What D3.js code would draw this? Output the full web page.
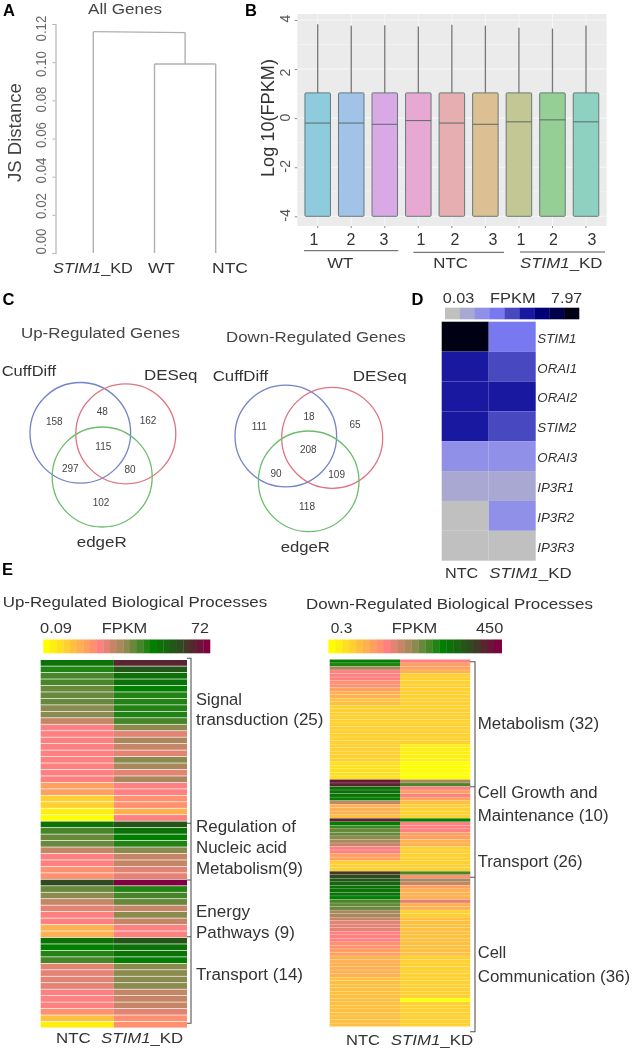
<!DOCTYPE html>
<html><head><meta charset="utf-8">
<script src="https://cdn.jsdelivr.net/npm/d3@7"></script>
<style>html,body{margin:0;padding:0;background:#fff}svg{display:block}text{font-family:"Liberation Sans",Arial,sans-serif}</style>
</head><body><svg id="c" width="633" height="1052"></svg>
<script>
// ---------- data ----------
const jsTicks = [0,0.02,0.04,0.06,0.08,0.10,0.12];
const dendroLeaves = ["STIM1_KD","WT","NTC"];
const dendroInner = 0.099;   // WT + NTC
const dendroRoot = 0.1155;   // STIM1_KD + rest
const boxSamples = ["WT1","WT2","WT3","NTC1","NTC2","NTC3","KD1","KD2","KD3"];
const boxQ1 = [-4,-4,-4,-4,-4,-4,-4,-4,-4];
const boxQ3 = [1.03,1.03,1.03,1.03,1.03,1.03,1.03,1.03,1.03];
const boxMedian = [-0.2,-0.2,-0.25,-0.1,-0.2,-0.25,-0.15,-0.07,-0.15];
const boxTop = [3.83,3.77,3.79,3.74,3.81,3.77,3.68,3.65,3.78];
const boxColors = ["#8ecbdc","#a2c3e8","#d9a9e6","#e7a8d3","#e6aeb0","#dcbf93","#c2c794","#96cf96","#8ed1c1"];
const boxTicks = [-4,-2,0,2,4];
const boxNums = ["1","2","3","1","2","3","1","2","3"];
const vennUp = ["158","48","162","115","297","80","102"];
const vennDown = ["111","18","65","208","90","109","118"];
const genesD = ["STIM1","ORAI1","ORAI2","STIM2","ORAI3","IP3R1","IP3R2","IP3R3"];
const levelsD_NTC = [8,5,5,5,2,1,0,0];
const levelsD_KD  = [3,4,5,4,2,1,2,0];
const paletteD = ["#c0c0c0","#a8a8d2","#9090e8","#7878f0","#4848c0","#1818a0","#000078","#00004a","#000014"];
const upNTC = [17,15,14,14,13,13,13,12,12,10,8,8,8,8,8,8,8,8,8,6,6,3,3,1,0,
  17,14,13,13,10,8,8,7,7,
  20,13,12,10,9,8,8,5,5,
  17,16,15,14,9,9,9,9,8,8,8,7,4,1];
const upKD = [22,19,17,17,16,15,15,15,15,14,12,9,11,10,9,12,11,9,11,8,8,7,7,5,8,
  19,17,16,15,12,10,10,9,9,
  24,15,14,13,10,12,10,8,8,
  19,17,17,16,12,12,12,12,10,10,10,9,7,7];
const downNTC = [16,15,11,8,8,8,7,7,6,5,5,4,4,
  3,3,3,3,3,3,3,3,3,3,3,3,3,3,3,3,
  2,2,2,2,2,23,22,17,17,17,16,10,5,5,5,4,22,16,14,13,13,12,11,10,8,8,6,6,3,3,3,21,
  20,19,18,17,17,17,16,14,13,13,11,11,10,9,9,9,8,8,8,7,7,6,6,
  5,5,5,5,5,5,4,4,4,4,4,4,4,4,4,4,4,4,4,4];
const downKD = [8,6,6,5,
  3,3,3,3,3,3,3,3,3,3,3,3,3,3,3,3,3,3,3,3,
  1,1,1,1,1,0,0,0,0,0,11,14,8,6,8,6,4,3,3,3,3,16,8,8,8,6,6,5,5,
  3,3,3,3,3,3,3,14,7,11,10,6,5,5,5,9,5,5,3,3,
  4,4,4,4,4,4,4,4,4,4,4,
  3,3,3,3,3,3,3,3,3,3,3,3,0,3,3,3,3,3,3,3];
const legendSteps = d3.range(0,25);

// ---------- helpers ----------
const svg = d3.select("#c");
const root = svg.append("g").style("filter","blur(0.35px)");
// parts: string, or array of [string, italic]; w = target printed width
function label(g,x,y,parts,size,w,opt={}){
  const n = g.append("g");
  const t = n.append("text").attr("font-size",size).attr("fill",opt.fill||"#333")
    .attr("font-weight",opt.bold?"bold":null).attr("font-style",opt.italic?"italic":null);
  (typeof parts==="string"?[[parts,false]]:parts).forEach(p=>{
    t.append("tspan").text(p[0]).attr("font-style",p[1]?"italic":null);
  });
  const sx = w? w/t.node().getComputedTextLength():1;
  const mw = t.node().getComputedTextLength()*sx;
  const ax = opt.center? -mw/2 : 0;
  n.attr("transform",`translate(${x},${y})${opt.rot?` rotate(${opt.rot})`:""} translate(${ax},0) scale(${sx},1)`);
  return n;
}
const KD = [["STIM1",true],["_KD",false]];
[["A",3,16],["B",245,15.5],["C",2.5,304.5],["D",411.5,304.5],["E",2,575]].forEach(d=>
  label(root,d[1],d[2],d[0],16.5,null,{bold:true,fill:"#000"}));

// ---------- A dendrogram ----------
{
  const g = root.append("g");
  const y = d3.scaleLinear().domain([0,0.12]).range([253,24]);
  const x = d3.scalePoint().domain(dendroLeaves).range([93.3,215.7]);
  const ax = d3.axisLeft(y).tickValues(jsTicks).tickFormat(d3.format(".2f")).tickSize(3);
  const a = g.append("g").attr("transform","translate(55.5,0)").call(ax);
  a.select(".domain").attr("stroke","#b5b5b5").attr("stroke-width",1.2);
  a.selectAll("line").attr("stroke","#b5b5b5");
  a.selectAll("text").each(function(d){
    const o = -12 + 2.67*Math.round(d/0.02);
    d3.select(this).attr("x",null).attr("y",null).attr("dy",null).attr("text-anchor","middle")
      .attr("transform",`translate(-10,${o}) rotate(-90) scale(1,1.05)`)
      .attr("font-size",13.3).attr("fill","#666").style("font-family",'"Liberation Sans"');
  });
  const mid = (x("WT")+x("NTC"))/2;
  const seg = [
    [x("WT"),y(0),x("WT"),y(dendroInner)],[x("WT"),y(dendroInner),x("NTC"),y(dendroInner)],[x("NTC"),y(dendroInner),x("NTC"),y(0)],
    [mid,y(dendroInner),mid,y(dendroRoot)],[mid,y(dendroRoot),x("STIM1_KD"),y(dendroRoot+0.0005)],[x("STIM1_KD"),y(dendroRoot+0.0005),x("STIM1_KD"),y(0)]];
  g.selectAll("line.s").data(seg).join("line").attr("class","s")
    .attr("x1",d=>d[0]).attr("y1",d=>d[1]).attr("x2",d=>d[2]).attr("y2",d=>d[3])
    .attr("stroke","#b0b0b0").attr("stroke-width",1.4);
  label(g,88,14,"All Genes",14.5,74,{fill:"#444"});
  label(g,21,182,"JS Distance",18,99,{rot:-90,fill:"#444"});
  label(g,53,272.7,KD,15.5,80,{fill:"#333"});
  label(g,148,272.7,"WT",15.5,27,{fill:"#333"});
  label(g,212,272.7,"NTC",15.5,36,{fill:"#333"});
}

// ---------- B boxes ----------
{
  const g = root.append("g");
  const y = d3.scaleLinear().domain([-4,4]).range([216.3,20]);
  const x = d3.scalePoint().domain(boxSamples).range([317.7,586]);
  const L=297.3,R=606.7,T=14,B=226,bw=25.5;
  g.append("rect").attr("x",L).attr("y",T).attr("width",R-L).attr("height",B-T).attr("fill","#ebebeb");
  g.selectAll("line.gh").data(d3.range(-4,4.1,1)).join("line").attr("class","gh")
    .attr("x1",L).attr("x2",R).attr("y1",d=>y(d)).attr("y2",d=>y(d))
    .attr("stroke","#f7f7f7").attr("stroke-width",d=>d%2?0.6:1.1);
  g.selectAll("line.gv").data(boxSamples).join("line").attr("class","gv")
    .attr("y1",T).attr("y2",B).attr("x1",d=>x(d)).attr("x2",d=>x(d)).attr("stroke","#f7f7f7").attr("stroke-width",1);
  const s = g.selectAll("g.b").data(boxSamples).join("g").attr("class","b");
  s.append("line").attr("x1",d=>x(d)).attr("x2",d=>x(d)).attr("y1",(d,i)=>y(boxTop[i])).attr("y2",(d,i)=>y(boxQ3[i]))
    .attr("stroke","#777").attr("stroke-width",1.3);
  s.append("rect").attr("x",d=>x(d)-bw/2).attr("width",bw).attr("rx",1)
    .attr("y",(d,i)=>y(boxQ3[i])).attr("height",(d,i)=>y(boxQ1[i])-y(boxQ3[i]))
    .attr("fill",(d,i)=>boxColors[i]).attr("stroke","#667a7a").attr("stroke-width",1);
  s.append("line").attr("x1",d=>x(d)-bw/2).attr("x2",d=>x(d)+bw/2).attr("y1",(d,i)=>y(boxMedian[i])).attr("y2",(d,i)=>y(boxMedian[i]))
    .attr("stroke","#5a6a68").attr("stroke-width",1);
  const a = g.append("g").attr("transform",`translate(${L},0)`).call(d3.axisLeft(y).tickValues(boxTicks).tickFormat(d3.format("d")).tickSize(2.5));
  a.select(".domain").remove();
  a.selectAll("line").attr("stroke","#888");
  a.selectAll("text").each(function(d){
    d3.select(this).text(String(d)).attr("x",null).attr("y",null).attr("dy",null).attr("text-anchor","middle")
      .attr("transform",`translate(-7,${d>=0?(d==4?-2:(d==2?3:-1)):-1.5}) rotate(-90)`)
      .attr("font-size",14).attr("fill","#555").style("font-family",'"Liberation Sans"');
  });
  g.selectAll("line.bt").data(boxSamples).join("line").attr("class","bt")
    .attr("x1",d=>x(d)).attr("x2",d=>x(d)).attr("y1",B).attr("y2",B+2).attr("stroke","#888");
  label(g,273.5,177,"Log 10(FPKM)",18,118,{rot:-90,fill:"#333"});
  const numX=[309.5,346.5,379.5,416.5,450.5,488.5,516.5,549,587.5];
  boxNums.forEach((n,i)=>label(g,numX[i],245,n,16,null,{fill:"#333"}));
  [[304,398.3,250.7],[413.3,504,252.3],[520,605,252]].forEach(d=>
    g.append("line").attr("x1",d[0]).attr("x2",d[1]).attr("y1",d[2]).attr("y2",d[2]).attr("stroke","#555").attr("stroke-width",1));
  label(g,327.3,268.3,"WT",15.5,26,{fill:"#333"});
  label(g,433.3,268.3,"NTC",15.5,34.5,{fill:"#333"});
  label(g,520,268.3,KD,15.5,82.5,{fill:"#333"});
}

// ---------- C venn ----------
function venn(vals,cs,pos){
  const g = root.append("g");
  g.selectAll("circle").data(cs).join("circle").attr("cx",d=>d[0]).attr("cy",d=>d[1]).attr("r",d=>d[2])
    .attr("fill","none").attr("stroke",d=>d[3]).attr("stroke-width",1.3);
  g.selectAll("text").data(vals).join("text").text(d=>d).attr("font-size",10).attr("fill","#444")
    .attr("text-anchor","middle").attr("x",(d,i)=>pos[i][0]/3).attr("y",(d,i)=>285+pos[i][1]/3+3.6);
  return g;
}
{
  const blue="#7383c8",red="#df7480",green="#6cbd6c";
  const a=venn(vennUp,[[80.3,432.8,50.3,blue],[125.8,433.8,50,red],[102.2,477,50,green]],
    [[163,410],[307,380],[444,407],[310,483],[211,549],[390,553],[303,652]]);
  label(a,21,337.7,"Up-Regulated Genes",15.5,159,{fill:"#444"});
  label(a,1.7,375.7,"CuffDiff",15.5,54.5,{fill:"#333"});
  label(a,144,380,"DESeq",15.5,53.5,{fill:"#333"});
  label(a,76.7,546.7,"edgeR",15.5,50,{fill:"#333"});
  const b=venn(vennDown,[[285.8,436,50.8,blue],[332.2,437.8,50.5,red],[308.7,481.3,50.3,green]],
    [[778,423],[927,394],[1065,419],[925,494],[828,564],[1010,567],[921,664]]);
  label(b,226,342.3,"Down-Regulated Genes",15.5,179.7,{fill:"#444"});
  label(b,212.7,380.7,"CuffDiff",15.5,55.6,{fill:"#333"});
  label(b,352.7,380.7,"DESeq",15.5,54,{fill:"#333"});
  label(b,280.7,552.3,"edgeR",15.5,49.3,{fill:"#333"});
}

// ---------- D heatmap ----------
{
  const g = root.append("g");
  const col = d3.scaleOrdinal().domain(d3.range(paletteD.length)).range(paletteD);
  const lx = d3.scaleBand().domain(d3.range(paletteD.length)).range([445,579]);
  g.selectAll("rect.l").data(d3.range(paletteD.length)).join("rect").attr("class","l")
    .attr("x",d=>lx(d)).attr("width",lx.bandwidth()+0.3).attr("y",307.7).attr("height",11.6).attr("fill",d=>col(d));
  const x = d3.scaleBand().domain(["NTC","KD"]).range([441.7,535.7]);
  const y = d3.scaleBand().domain(genesD).range([321.7,560.7]);
  [["NTC",levelsD_NTC],["KD",levelsD_KD]].forEach(([c,v])=>
    g.selectAll("rect.c"+c).data(genesD).join("rect").attr("class","c"+c)
      .attr("x",x(c)).attr("width",x.bandwidth()).attr("y",d=>y(d)).attr("height",y.bandwidth())
      .attr("fill",(d,i)=>col(v[i])));
  genesD.forEach(n=>label(g,537.3,y(n)+y.bandwidth()/2+6,n,13.3,null,{italic:true,fill:"#333"}));
  label(g,442.7,302.7,"0.03",15,31.6,{fill:"#333"});
  label(g,490,302.7,"FPKM",15,45.7,{fill:"#333"});
  label(g,551,302.7,"7.97",15,31.3,{fill:"#333"});
  label(g,445,578.3,"NTC",15.5,33.3,{fill:"#333"});
  label(g,489.3,578.3,KD,15.5,82.4,{fill:"#333"});
}

// ---------- E heatmaps ----------
const fpkmColor = d3.scaleLinear().domain([0,4,8,12,16,20,24])
  .range(["#ffff00","#ffc040","#ff8080","#8b8b50","#007f00","#2f4a1f","#800040"]);
function heat(a,b,cfg){
  const g = root.append("g");
  const y = d3.scaleBand().domain(d3.range(a.length)).range([cfg.top,cfg.bottom]);
  const x = d3.scaleBand().domain([0,1]).range([cfg.left,cfg.right]);
  [a,b].forEach((v,k)=>g.selectAll("rect.k"+k).data(v).join("rect").attr("class","k"+k)
    .attr("x",x(k)).attr("width",x.bandwidth()).attr("y",(d,i)=>y(i)).attr("height",y.bandwidth()-cfg.gap)
    .attr("fill",d=>fpkmColor(d)));
  const lx = d3.scaleBand().domain(legendSteps).range(cfg.legend);
  g.selectAll("rect.lg").data(legendSteps).join("rect").attr("class","lg")
    .attr("x",d=>lx(d)).attr("width",lx.bandwidth()+0.3).attr("y",639.5).attr("height",13.8).attr("fill",d=>fpkmColor(d));
  const path = d3.path();
  path.moveTo(cfg.bx-cfg.tick,cfg.btop); path.lineTo(cfg.bx,cfg.btop); path.lineTo(cfg.bx,cfg.bbot); path.lineTo(cfg.bx-cfg.tick,cfg.bbot);
  cfg.bticks.forEach(t=>{path.moveTo(cfg.bx-cfg.tick,t); path.lineTo(cfg.bx,t);});
  g.append("path").attr("d",path.toString()).attr("fill","none").attr("stroke","#555").attr("stroke-width",1.1);
  return g;
}
{
  const g = heat(upNTC,upKD,{top:660,bottom:1028.3,left:40.7,right:187,gap:0.7,legend:[43.3,210],
    bx:191,tick:4,btop:658.3,bbot:1023.3,bticks:[823.3,880,936.7]});
  label(g,2.7,606.7,"Up-Regulated Biological Processes",15.5,265,{fill:"#333"});
  label(g,40,632.7,"0.09",15.5,32,{fill:"#333"});
  label(g,101.7,632.7,"FPKM",15.5,45.6,{fill:"#333"});
  label(g,191,632.7,"72",15.5,18,{fill:"#333"});
  [["Signal",705,46],["transduction (25)",725,127.5],["Regulation of",831.7,100],["Nucleic acid",853.3,91],
   ["Metabolism(9)",874.3,107],["Energy",917.3,54],["Pathways (9)",937.7,99],["Transport (14)",980,107]]
   .forEach(d=>label(g,196,d[1],d[0],16,d[2],{fill:"#333"}));
  label(g,56,1043.3,"NTC",15.5,34.7,{fill:"#333"});
  label(g,101,1043.3,KD,15.5,82.3,{fill:"#333"});
}
{
  const g = heat(downNTC,downKD,{top:659.5,bottom:1026.7,left:329.7,right:470.3,gap:0.25,legend:[328.3,501.7],
    bx:475,tick:5,btop:661.7,bbot:1031.7,bticks:[786.7,877.3]});
  label(g,306,609.3,"Down-Regulated Biological Processes",15.5,287.3,{fill:"#333"});
  label(g,330.7,633,"0.3",15.5,21.6,{fill:"#333"});
  label(g,391.7,633,"FPKM",15.5,45.6,{fill:"#333"});
  label(g,476,633,"450",15.5,27.3,{fill:"#333"});
  [["Metabolism (32)",729.3,121.5],["Cell Growth and",798.3,120],["Maintenance (10)",820.7,131],
   ["Transport (26)",866.7,105],["Cell",958.3,28.5],["Communication (36)",981.7,152.5]]
   .forEach(d=>label(g,477.7,d[1],d[0],16,d[2],{fill:"#333"}));
  label(g,346,1045,"NTC",15.5,34,{fill:"#333"});
  label(g,390.7,1045,KD,15.5,82.6,{fill:"#333"});
}
</script></body></html>
